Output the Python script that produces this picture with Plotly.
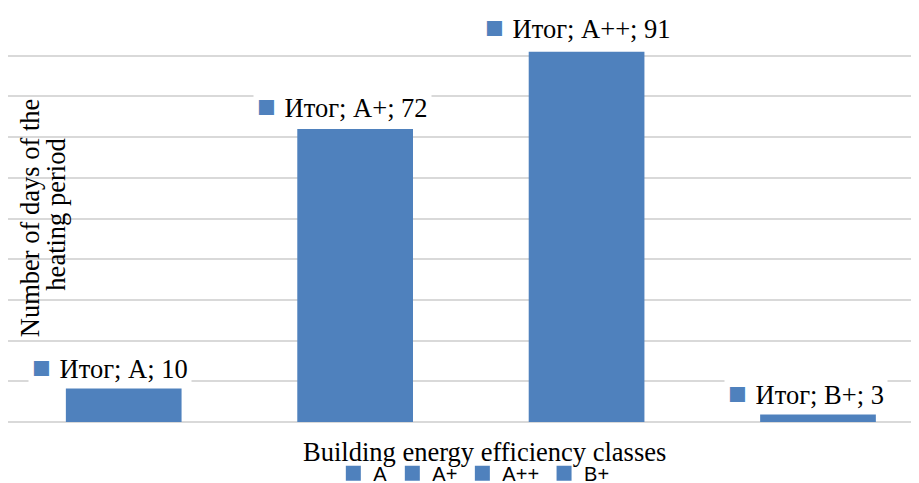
import plotly.graph_objects as go

classes = ["A", "A+", "A++", "B+"]
days = [10, 72, 91, 3]
label_prefix = "Итог"

BLUE = "#4F81BD"
GRID = "#D9D9D9"
SERIF = "Liberation Serif, Times New Roman, serif"
SANS = "Liberation Sans, Arial, sans-serif"

fig = go.Figure()
for i, (c, v) in enumerate(zip(classes, days)):
    fig.add_trace(go.Bar(
        x=[i], y=[v], name=c, width=0.5, showlegend=False,
        marker=dict(color=BLUE, line=dict(width=0)),
    ))
    # legend entry with a bigger square symbol
    fig.add_trace(go.Scatter(
        x=[None], y=[None], name=c, mode="markers",
        marker=dict(symbol="square", size=15, color=BLUE),
    ))

# data labels: (x shift px, label centre in value units)
label_pos = [(-14, 13.5), (-13, 77.4), (-9, 97.0), (-12, 6.9)]
for i, (c, v) in enumerate(zip(classes, days)):
    dx, ly = label_pos[i]
    fig.add_annotation(
        x=i, y=ly, xref="x", yref="y", xshift=dx,
        text=f"<span style='color:{BLUE};font-size:31px'>■</span>&#8196;{label_prefix}; {c}; {v}",
        showarrow=False, bgcolor="white", borderpad=3,
        font=dict(family=SERIF, size=26.5, color="#000000"),
    )

fig.add_annotation(
    x=0.518, y=-0.074, xref="paper", yref="paper", xanchor="center", yanchor="middle",
    text="Building energy efficiency classes", showarrow=False,
    font=dict(family=SERIF, size=26.5, color="#000000"),
)
# y title as two rotated lines
fig.add_annotation(
    x=0.024, y=0.501, xref="paper", yref="paper", xanchor="center", yanchor="middle",
    text="Number of days of the", showarrow=False, textangle=-90,
    font=dict(family=SERIF, size=26.5, color="#000000"),
)
fig.add_annotation(
    x=0.052, y=0.509, xref="paper", yref="paper", xanchor="center", yanchor="middle",
    text="heating period", showarrow=False, textangle=-90,
    font=dict(family=SERIF, size=26.5, color="#000000"),
)

fig.update_layout(
    width=919, height=483,
    margin=dict(l=0, r=0, t=7, b=69),
    paper_bgcolor="white", plot_bgcolor="white",
    barmode="overlay",
    showlegend=True,
    legend=dict(orientation="h", x=0.354, xanchor="left", xref="container",
                y=0.037, yanchor="middle", yref="container",
                font=dict(family=SANS, size=20, color="#000000"),
                itemwidth=30, tracegroupgap=0, bgcolor="rgba(0,0,0,0)"),
    xaxis=dict(range=[-0.5, 3.471], showticklabels=False, showgrid=False, zeroline=False,
               showline=False, ticks=""),
    yaxis=dict(range=[0, 100], dtick=10, showticklabels=False, showgrid=True, gridcolor=GRID,
               gridwidth=1.5, zeroline=True, zerolinecolor=GRID, zerolinewidth=1.5, showline=False),
)

fig.write_html("out.html")
